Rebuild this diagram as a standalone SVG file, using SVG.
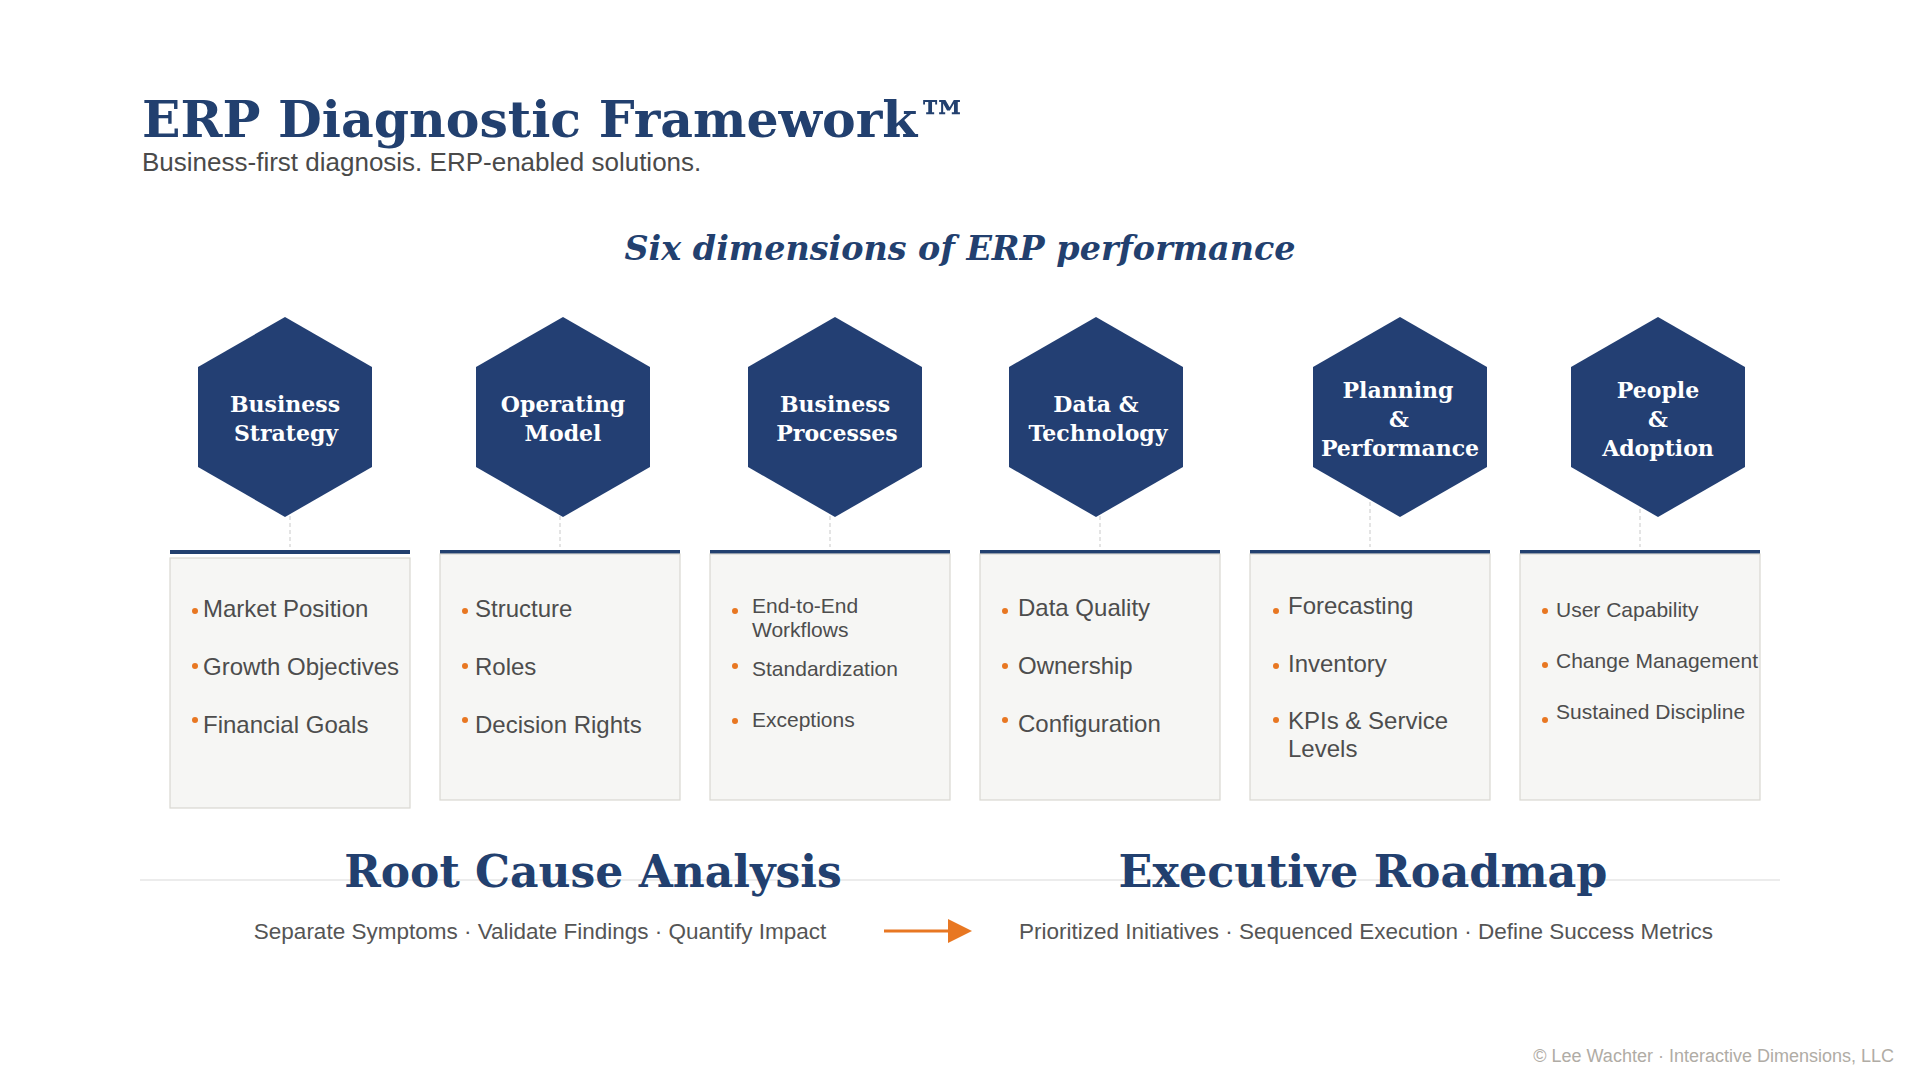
<svg xmlns="http://www.w3.org/2000/svg" xmlns:xlink="http://www.w3.org/1999/xlink" width="1920" height="1080" viewBox="0 0 1920 1080">
<style>
.serif{font-family:"DejaVu Serif","Liberation Serif",serif;font-weight:bold;fill:#22406f}
.hexlbl{font-family:"DejaVu Serif","Liberation Serif",serif;font-weight:bold;font-size:22px;fill:#ffffff;text-anchor:middle}
.sans{font-family:"Liberation Sans",Arial,sans-serif}
.item{font-family:"Liberation Sans",Arial,sans-serif;font-size:24px;fill:#4d4d4d}
.item.sm{font-size:21px}
.hex{fill:#233f73}
.bar{fill:#22406f}
.card{fill:#f6f6f4;stroke:#d9d8d1;stroke-width:1.2}
.dot{fill:#e87722}
.dash{stroke:#c9c9c9;stroke-width:1;stroke-dasharray:4 3;fill:none}
</style>
<defs>
<polygon id="hexshape" points="0,-100 87,-50 87,50 0,100 -87,50 -87,-50"/>
<marker id="arrowhead" markerWidth="24" markerHeight="24" refX="0" refY="12" orient="auto" markerUnits="userSpaceOnUse" viewBox="0 0 24 24">
<path d="M0,0 L24,12 L0,24 Z" fill="#e87722"/>
</marker>
</defs>
<rect x="0" y="0" width="1920" height="1080" fill="#ffffff"/>

<g id="header">
<text class="serif" x="142" y="137" font-size="50.5">ERP Diagnostic Framework™</text>
<text class="sans" x="142" y="171" font-size="26" fill="#4a4a4a">Business-first diagnosis. ERP-enabled solutions.</text>
<text class="serif" x="960" y="260" font-size="33.4" font-style="italic" text-anchor="middle">Six dimensions of ERP performance</text>
</g>

<g id="connectors">
<line class="dash" x1="290" y1="495" x2="290" y2="547"/>
<line class="dash" x1="560" y1="495" x2="560" y2="547"/>
<line class="dash" x1="830" y1="495" x2="830" y2="547"/>
<line class="dash" x1="1100" y1="495" x2="1100" y2="547"/>
<line class="dash" x1="1370" y1="495" x2="1370" y2="547"/>
<line class="dash" x1="1640" y1="495" x2="1640" y2="547"/>
<line x1="884" y1="931" x2="948" y2="931" stroke="#e87722" stroke-width="3" marker-end="url(#arrowhead)"/>
</g>

<g id="hex-business-strategy">
<use xlink:href="#hexshape" href="#hexshape" class="hex" x="285" y="417"/>
<text class="hexlbl" x="285" y="412">Business</text>
<text class="hexlbl" x="286" y="441">Strategy</text>
</g>
<g id="hex-operating-model">
<use xlink:href="#hexshape" href="#hexshape" class="hex" x="563" y="417"/>
<text class="hexlbl" x="563" y="412">Operating</text>
<text class="hexlbl" x="563" y="441">Model</text>
</g>
<g id="hex-business-processes">
<use xlink:href="#hexshape" href="#hexshape" class="hex" x="835" y="417"/>
<text class="hexlbl" x="835" y="412">Business</text>
<text class="hexlbl" x="837" y="441">Processes</text>
</g>
<g id="hex-data-technology">
<use xlink:href="#hexshape" href="#hexshape" class="hex" x="1096" y="417"/>
<text class="hexlbl" x="1096" y="412">Data &amp;</text>
<text class="hexlbl" x="1098" y="441">Technology</text>
</g>
<g id="hex-planning-performance">
<use xlink:href="#hexshape" href="#hexshape" class="hex" x="1400" y="417"/>
<text class="hexlbl" x="1398" y="398">Planning</text>
<text class="hexlbl" x="1399" y="427">&amp;</text>
<text class="hexlbl" x="1400" y="456">Performance</text>
</g>
<g id="hex-people-adoption">
<use xlink:href="#hexshape" href="#hexshape" class="hex" x="1658" y="417"/>
<text class="hexlbl" x="1658" y="398">People</text>
<text class="hexlbl" x="1658" y="427">&amp;</text>
<text class="hexlbl" x="1658" y="456">Adoption</text>
</g>

<g id="card-business-strategy">
<rect class="bar" x="170" y="550" width="240" height="4"/>
<rect class="card" x="170" y="558" width="240" height="250"/>
<circle class="dot" cx="195" cy="611" r="3"/><text class="item" x="203" y="617">Market Position</text>
<circle class="dot" cx="195" cy="666" r="3"/><text class="item" x="203" y="675">Growth Objectives</text>
<circle class="dot" cx="195" cy="720" r="3"/><text class="item" x="203" y="733">Financial Goals</text>
</g>
<g id="card-operating-model">
<rect class="bar" x="440" y="550" width="240" height="4"/>
<rect class="card" x="440" y="554" width="240" height="246"/>
<circle class="dot" cx="465" cy="611" r="3"/><text class="item" x="475" y="617">Structure</text>
<circle class="dot" cx="465" cy="666" r="3"/><text class="item" x="475" y="675">Roles</text>
<circle class="dot" cx="465" cy="720" r="3"/><text class="item" x="475" y="733">Decision Rights</text>
</g>
<g id="card-business-processes">
<rect class="bar" x="710" y="550" width="240" height="4"/>
<rect class="card" x="710" y="554" width="240" height="246"/>
<circle class="dot" cx="735" cy="611" r="3"/><text class="item sm" x="752" y="613">End-to-End</text>
<text class="item sm" x="752" y="637">Workflows</text>
<circle class="dot" cx="735" cy="666" r="3"/><text class="item sm" x="752" y="676">Standardization</text>
<circle class="dot" cx="735" cy="721" r="3"/><text class="item sm" x="752" y="727">Exceptions</text>
</g>
<g id="card-data-technology">
<rect class="bar" x="980" y="550" width="240" height="4"/>
<rect class="card" x="980" y="554" width="240" height="246"/>
<circle class="dot" cx="1005" cy="611" r="3"/><text class="item" x="1018" y="616">Data Quality</text>
<circle class="dot" cx="1005" cy="666" r="3"/><text class="item" x="1018" y="674">Ownership</text>
<circle class="dot" cx="1005" cy="720" r="3"/><text class="item" x="1018" y="732">Configuration</text>
</g>
<g id="card-planning-performance">
<rect class="bar" x="1250" y="550" width="240" height="4"/>
<rect class="card" x="1250" y="554" width="240" height="246"/>
<circle class="dot" cx="1276" cy="611" r="3"/><text class="item" x="1288" y="614">Forecasting</text>
<circle class="dot" cx="1276" cy="666" r="3"/><text class="item" x="1288" y="672">Inventory</text>
<circle class="dot" cx="1276" cy="720" r="3"/><text class="item" x="1288" y="729">KPIs &amp; Service</text>
<text class="item" x="1288" y="757">Levels</text>
</g>
<g id="card-people-adoption">
<rect class="bar" x="1520" y="550" width="240" height="4"/>
<rect class="card" x="1520" y="554" width="240" height="246"/>
<circle class="dot" cx="1545" cy="611" r="3"/><text class="item sm" x="1556" y="617">User Capability</text>
<circle class="dot" cx="1545" cy="665" r="3"/><text class="item sm" x="1556" y="668">Change Management</text>
<circle class="dot" cx="1545" cy="720" r="3"/><text class="item sm" x="1556" y="719">Sustained Discipline</text>
</g>

<g id="bottom">
<line x1="140" y1="880" x2="1780" y2="880" stroke="#e6e6e6" stroke-width="1.5"/>
<g id="root-cause">
<text class="serif" x="593" y="887" font-size="44" text-anchor="middle">Root Cause Analysis</text>
<text class="sans" x="540" y="939" font-size="22.5" fill="#555555" text-anchor="middle">Separate Symptoms · Validate Findings · Quantify Impact</text>
</g>
<g id="exec-roadmap">
<text class="serif" x="1363" y="887" font-size="44.5" text-anchor="middle">Executive Roadmap</text>
<text class="sans" x="1366" y="939" font-size="22.5" fill="#555555" text-anchor="middle">Prioritized Initiatives · Sequenced Execution · Define Success Metrics</text>
</g>
<text class="sans" x="1894" y="1062" font-size="18" fill="#b0aca5" text-anchor="end">© Lee Wachter · Interactive Dimensions, LLC</text>
</g>
</svg>
